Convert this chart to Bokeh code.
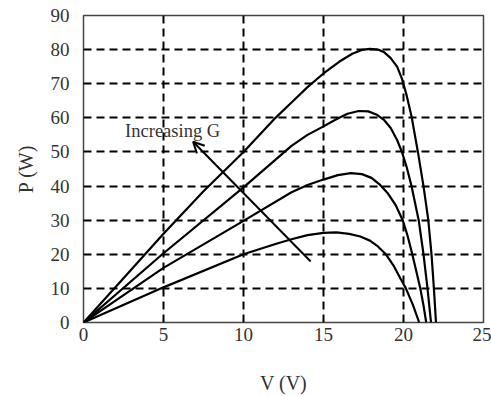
from bokeh.plotting import figure
from bokeh.models import FixedTicker, Arrow, OpenHead, Label, Range1d
from bokeh.embed import file_html
from bokeh.resources import INLINE

# P-V curves for increasing irradiance G
v1 = [0, 2.5, 5, 7.5, 10, 12, 13, 14, 15, 16, 16.8, 17.4, 17.9, 18.4, 18.8, 19.2, 19.6, 19.9, 20.2, 20.5, 20.9, 21.25, 21.55, 21.75, 21.9, 22.03]
p1 = [0, 13, 26, 38.5, 50, 60, 64.5, 69, 73, 76.5, 78.8, 79.9, 80.2, 80, 79.2, 77.5, 75, 71.5, 66.5, 60.5, 50, 40, 30, 20, 10, 0]

v2 = [0, 5, 10, 13, 14, 15, 15.8, 16.5, 17.2, 17.8, 18.3, 18.8, 19.2, 19.6, 19.9, 20.2, 20.5, 20.95, 21.25, 21.5, 21.72]
p2 = [0, 20.3, 39.6, 51.8, 55, 57.5, 59.6, 61.2, 62, 61.9, 61, 59.3, 57, 53.5, 50, 45.5, 40, 30, 20, 10, 0]

v3 = [0, 5, 10, 13, 14, 15, 15.9, 16.7, 17.4, 18, 18.5, 19, 19.5, 19.95, 20.25, 20.55, 20.8, 21.05, 21.25, 21.42]
p3 = [0, 16, 29.8, 38.2, 40.3, 41.9, 43.2, 43.8, 43.5, 42.4, 40.5, 38, 34.5, 30, 25.5, 20, 15, 10, 5, 0]

v4 = [0, 5, 10, 12, 13, 14, 15, 15.8, 16.6, 17.3, 17.9, 18.4, 18.9, 19.4, 19.8, 20.15, 20.6, 20.98]
p4 = [0, 10.3, 20, 23, 24.4, 25.6, 26.3, 26.4, 26, 25.2, 24, 22.3, 20, 16.5, 13, 10, 5, 0]

x_ticks = [0, 5, 10, 15, 20, 25]
y_ticks = [0, 10, 20, 30, 40, 50, 60, 70, 80, 90]

arrow_tail = (14.2, 17.9)
arrow_head = (6.85, 53.0)
note_text = "Increasing G"
note_pos = (2.6, 56.0)

FONT = "Liberation Serif"

p = figure(width=491, height=396, output_backend="svg", toolbar_location=None,
           x_range=Range1d(0, 25), y_range=Range1d(0, 90),
           min_border_left=83, min_border_right=8, min_border_top=15, min_border_bottom=67)

for vv, pp in [(v1, p1), (v2, p2), (v3, p3), (v4, p4)]:
    p.line(vv, pp, line_color="black", line_width=2.2)

p.add_layout(Arrow(end=OpenHead(size=11, line_color="black", line_width=2),
                   x_start=arrow_tail[0], y_start=arrow_tail[1],
                   x_end=arrow_head[0], y_end=arrow_head[1],
                   line_color="black", line_width=2))
p.add_layout(Label(x=note_pos[0], y=note_pos[1], text=note_text,
                   text_font=FONT, text_font_size="18.5px", text_color="#333333",
                   text_baseline="middle"))

p.xaxis.ticker = FixedTicker(ticks=x_ticks)
p.yaxis.ticker = FixedTicker(ticks=y_ticks)
for ax in (p.xaxis[0], p.yaxis[0]):
    ax.major_tick_line_color = None
    ax.minor_tick_line_color = None
    ax.axis_line_color = None
    ax.major_label_text_font = FONT
    ax.major_label_text_font_size = "19px"
    ax.major_label_text_color = "#333333"
    ax.axis_label_text_font = FONT
    ax.axis_label_text_font_size = "20px"
    ax.axis_label_text_font_style = "normal"
    ax.axis_label_text_color = "#333333"
p.xaxis.axis_label = "V (V)"
p.yaxis.axis_label = "P (W)"
p.xaxis.major_label_standoff = -1
p.yaxis.major_label_standoff = 8
p.xaxis.axis_label_standoff = 28
p.yaxis.axis_label_standoff = 11

for g in (p.xgrid[0], p.ygrid[0]):
    g.grid_line_color = "black"
    g.grid_line_width = 2
    g.grid_line_dash = "8 5"
p.xgrid.ticker = FixedTicker(ticks=[5, 10, 15, 20])
p.ygrid.ticker = FixedTicker(ticks=[10, 20, 30, 40, 50, 60, 70, 80])

p.outline_line_color = "#444444"
p.outline_line_width = 1.5
p.outline_line_alpha = 1
p.background_fill_color = "white"
p.border_fill_color = "white"

open("out.html", "w").write(file_html(p, INLINE))
